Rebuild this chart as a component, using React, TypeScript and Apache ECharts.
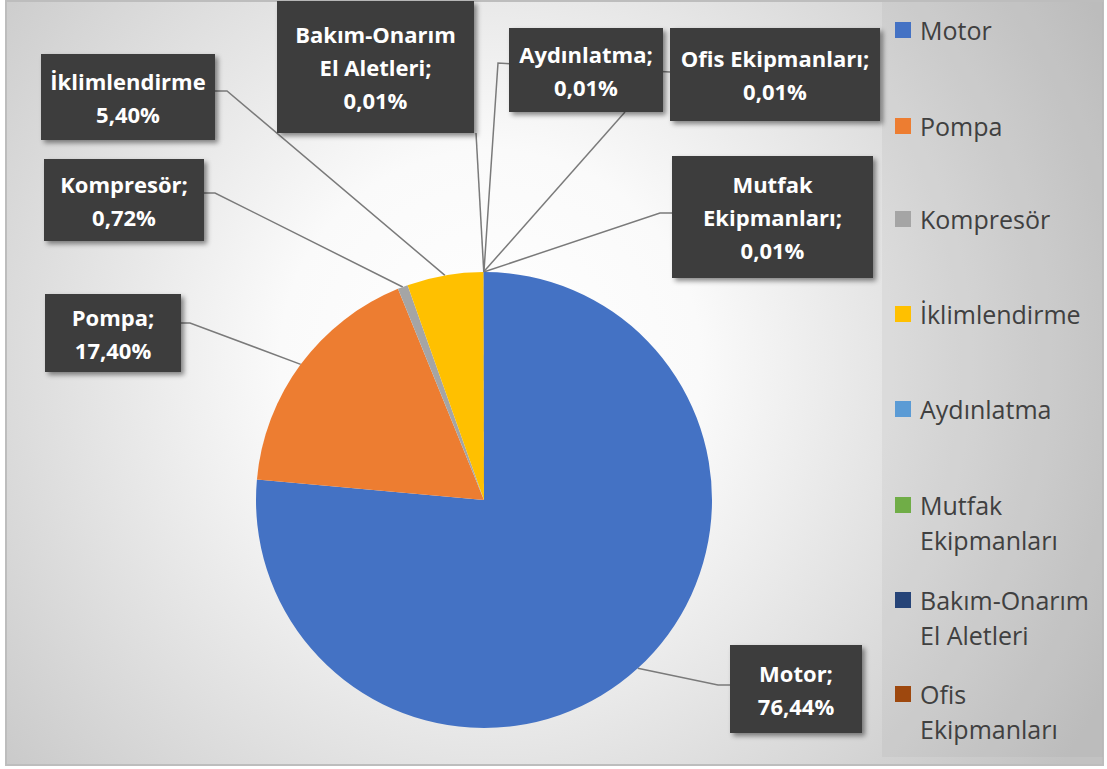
import React, { useEffect, useRef } from 'react';
import * as echarts from 'echarts';

// ---- data ----
const categories = [
  'Motor',
  'Pompa',
  'Kompresör',
  'İklimlendirme',
  'Aydınlatma',
  'Mutfak Ekipmanları',
  'Bakım-Onarım El Aletleri',
  'Ofis Ekipmanları',
];
const shares = [76.44, 17.4, 0.72, 5.4, 0.01, 0.01, 0.01, 0.01];
const colors = ['#4472C4', '#ED7D31', '#A5A5A5', '#FFC000', '#5B9BD5', '#70AD47', '#264478', '#9E480E'];
const labelNames = [
  'Motor;',
  'Pompa;',
  'Kompresör;',
  'İklimlendirme',
  'Aydınlatma;',
  'Mutfak\nEkipmanları;',
  'Bakım-Onarım\nEl Aletleri;',
  'Ofis Ekipmanları;',
];
const legendNames = [
  'Motor',
  'Pompa',
  'Kompresör',
  'İklimlendirme',
  'Aydınlatma',
  'Mutfak\nEkipmanları',
  'Bakım-Onarım\nEl Aletleri',
  'Ofis\nEkipmanları',
];

// ---- layout (label boxes, legend rows) ----
const labelBoxes = [
  { cx: 796, cy: 689, w: 132, h: 88, elbow: [718, 685], end: [730, 685] },
  { cx: 113, cy: 333, w: 136, h: 78, elbow: [190, 323], end: [181, 323] },
  { cx: 124, cy: 200, w: 160, h: 82, elbow: [215, 193], end: [204, 193] },
  { cx: 128, cy: 97, w: 174, h: 86, elbow: [227, 91], end: [215, 91] },
  { cx: 586, cy: 70, w: 154, h: 84, elbow: [625, 112], end: [625, 112] },
  { cx: 772.5, cy: 217, w: 201, h: 122, elbow: [660, 213], end: [672, 213] },
  { cx: 375.5, cy: 67, w: 197, h: 132, elbow: [476, 133], end: [476, 133] },
  { cx: 775, cy: 74.5, w: 210, h: 93, elbow: [498, 63], end: [670, 72] },
];
const legendIconCenters = [30, 126, 219, 314, 409, 505, 600, 694];
const LABEL_LH = 33;
const LEGEND_LH = 35;

const fmtPct = (v: number) => v.toFixed(2).replace('.', ',') + '%';

export default function App() {
  const ref = useRef<HTMLDivElement>(null);

  useEffect(() => {
    if (!ref.current) return;
    const chart = echarts.init(ref.current, undefined, { renderer: 'svg' });

    const data = categories.map((name, i) => {
      const b = labelBoxes[i];
      const lines = labelNames[i].split('\n').length + 1;
      return {
        name,
        value: shares[i],
        itemStyle: { color: colors[i] },
        label: {
          width: b.w,
          padding: [(b.h - lines * LABEL_LH) / 2, 0],
        },
      };
    });

    const legends = categories.map((name, i) => {
      const two = legendNames[i].includes('\n');
      return {
        data: [name],
        orient: 'vertical',
        left: 895,
        top: legendIconCenters[i] - LEGEND_LH / 2,
        padding: 0,
        itemWidth: 16,
        itemHeight: two ? LEGEND_LH * 2 : 16,
        icon: two
          ? 'path://M0,0h0.01v0.01h-0.01z M0,9.5h16v16h-16z M15.99,69.99h0.01v0.01h-0.01z'
          : 'rect',
        selectedMode: false,
        formatter: () => legendNames[i],
        textStyle: {
          fontFamily: 'Open Sans',
          fontSize: 25,
          color: '#404040',
          lineHeight: LEGEND_LH,
          padding: [0, 0, 0, 4],
        },
      };
    });

    chart.setOption({
      animation: false,
      backgroundColor: '#ffffff',
      graphic: [
        {
          type: 'rect',
          z: 0,
          shape: { x: 6, y: 1, width: 1097, height: 764 },
          style: {
            fill: new echarts.graphic.RadialGradient(
              490,
              360,
              700,
              [
                { offset: 0, color: '#ffffff' },
                { offset: 0.3, color: '#fafafa' },
                { offset: 1, color: '#c2c2c2' },
              ],
              true
            ),
            stroke: '#bdbdbd',
            lineWidth: 2,
          },
          silent: true,
        },
        {
          type: 'rect',
          z: 0,
          shape: { x: 882, y: 2, width: 221, height: 755 },
          style: { fill: 'rgba(150,150,150,0.11)' },
          silent: true,
        },
      ],
      legend: legends,
      series: [
        {
          type: 'pie',
          center: [484, 500],
          radius: 228,
          startAngle: 90,
          clockwise: true,
          avoidLabelOverlap: false,
          emphasis: { disabled: true },
          data,
          label: {
            show: true,
            position: 'outside',
            formatter: (p: any) => labelNames[p.dataIndex] + '\n' + fmtPct(p.value),
            color: '#ffffff',
            fontFamily: 'Open Sans',
            fontWeight: 'bold',
            fontSize: 22,
            lineHeight: LABEL_LH,
            align: 'center',
            backgroundColor: '#3d3d3d',
            shadowColor: 'rgba(0,0,0,0.45)',
            shadowBlur: 5,
            shadowOffsetX: 3,
            shadowOffsetY: 3,
          },
          labelLine: {
            show: true,
            length: 20,
            length2: 20,
            lineStyle: { color: '#7a7a7a', width: 1.5 },
          },
          labelLayout: (params: any) => {
            const b = labelBoxes[params.dataIndex];
            const p0 =
              params.labelLinePoints && params.labelLinePoints[0]
                ? params.labelLinePoints[0]
                : [484, 272];
            return {
              x: b.cx,
              y: b.cy,
              align: 'center',
              verticalAlign: 'middle',
              labelLinePoints: [p0, b.elbow, b.end],
            };
          },
        },
      ],
    });

    return () => chart.dispose();
  }, []);

  return (
    <div
      ref={ref}
      style={{ position: 'fixed', left: 0, top: 0, width: 1107, height: 769 }}
    />
  );
}
